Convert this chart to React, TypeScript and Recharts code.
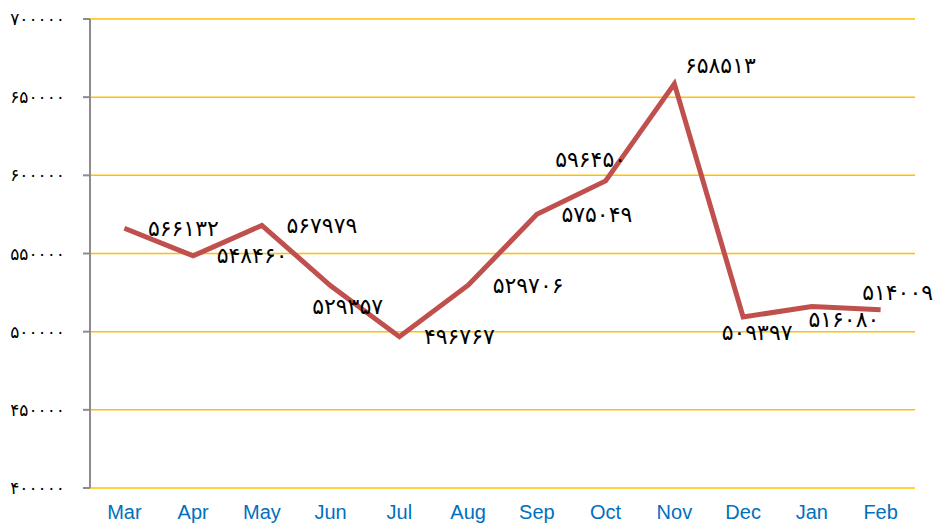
import React from 'react';
import { LineChart, Line, XAxis, YAxis, CartesianGrid, LabelList } from 'recharts';

const months = ['Mar', 'Apr', 'May', 'Jun', 'Jul', 'Aug', 'Sep', 'Oct', 'Nov', 'Dec', 'Jan', 'Feb'];
const values = [566132, 548460, 567979, 529357, 496767, 529706, 575049, 596450, 658513, 509397, 516080, 514009];
const yTicks = [400000, 450000, 500000, 550000, 600000, 650000, 700000];
const boundaryTicks = [0, 1, 2, 3, 4, 5, 6, 7, 8, 9, 10, 11, 12];
const labelTicks = [0.5, 1.5, 2.5, 3.5, 4.5, 5.5, 6.5, 7.5, 8.5, 9.5, 10.5, 11.5];

// label placement offsets (dx, dy) relative to each point
const labelOffsets: [number, number][] = [
  [59, 0], [59, 0], [60, 0], [17, 21], [60, 0], [60, 0],
  [60, 0], [-15, -21], [46, -18], [14, 16], [32, 13], [17, -17],
];

const data = months.map((m, i) => ({ month: m, pos: i + 0.5, value: values[i] }));

const FA = '۰۱۲۳۴۵۶۷۸۹';
const toFa = (n: number) => String(n).replace(/[0-9]/g, (d) => FA[Number(d)]);

const renderLabel = (props: any) => {
  const { x, y, index, value } = props;
  const [dx, dy] = labelOffsets[index] || [0, 0];
  return (
    <text
      x={x + dx}
      y={y + dy}
      textAnchor="middle"
      dominantBaseline="central"
      fontFamily="DejaVu Sans"
      fontSize={22}
      fill="#000"
    >
      {toFa(value)}
    </text>
  );
};

export default function App() {
  return (
    <div style={{ position: 'absolute', left: 0, top: 0, background: '#fff' }}>
      <LineChart width={936} height={524} data={data} margin={{ top: 19, right: 21, left: 0, bottom: 0 }}>
        <CartesianGrid horizontal vertical={false} stroke="#FFC000" strokeWidth={1.5} />
        <XAxis
          dataKey="pos"
          type="number"
          domain={[0, 12]}
          ticks={boundaryTicks}
          tick={false}
          height={0}
          axisLine={{ stroke: '#0070C0', strokeWidth: 2 }}
          tickLine={{ stroke: '#0070C0', strokeWidth: 2 }}
          tickSize={6}
          allowDataOverflow
        />
        <XAxis
          xAxisId="lab"
          dataKey="pos"
          type="number"
          domain={[0, 12]}
          ticks={labelTicks}
          tickFormatter={(v: number) => months[Math.floor(v)]}
          height={36}
          axisLine={false}
          tickLine={false}
          tickSize={0}
          tickMargin={17}
          tick={{ fill: '#0070C0', fontSize: 20, fontFamily: 'Liberation Sans' }}
          interval={0}
          allowDataOverflow
        />
        <YAxis
          type="number"
          domain={[400000, 700000]}
          ticks={yTicks}
          width={90}
          interval={0}
          axisLine={{ stroke: '#8C8C8C', strokeWidth: 2 }}
          tickLine={{ stroke: '#8C8C8C', strokeWidth: 2 }}
          tickSize={7}
          tickMargin={18}
          tickFormatter={(v: number) => toFa(v)}
          tick={{ fill: '#000', fontSize: 17, fontFamily: 'DejaVu Sans' }}
        />
        <Line
          type="linear"
          dataKey="value"
          stroke="#C0504D"
          strokeWidth={5}
          dot={false}
          isAnimationActive={false}
        >
          <LabelList dataKey="value" content={renderLabel} />
        </Line>
      </LineChart>
    </div>
  );
}
